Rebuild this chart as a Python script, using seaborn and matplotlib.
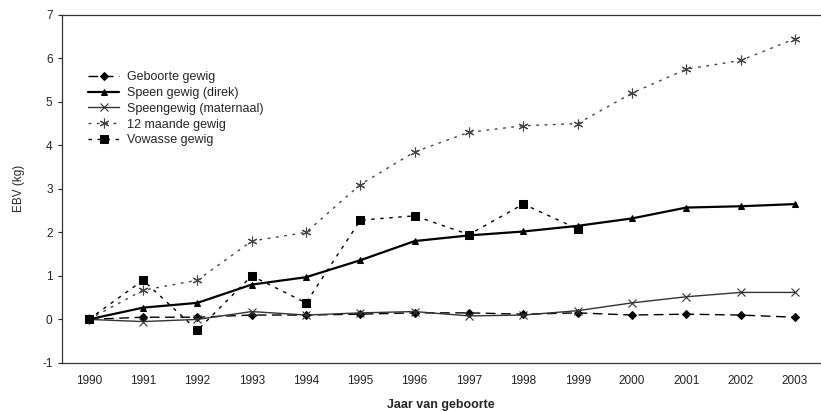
import matplotlib
matplotlib.use("Agg")
import matplotlib.pyplot as plt
import seaborn as sns
import pandas as pd

years = list(range(1990, 2004))

geboorte = [0.0, 0.05, 0.05, 0.10, 0.10, 0.12, 0.15, 0.15, 0.12, 0.15, 0.10, 0.12, 0.10, 0.05]
speen_direk = [0.0, 0.27, 0.38, 0.80, 0.97, 1.36, 1.80, 1.93, 2.02, 2.15, 2.32, 2.57, 2.60, 2.65]
speen_maternaal = [0.0, -0.05, 0.0, 0.18, 0.10, 0.15, 0.18, 0.08, 0.10, 0.20, 0.38, 0.52, 0.62, 0.62]
maande12 = [0.0, 0.67, 0.90, 1.80, 2.00, 3.10, 3.85, 4.30, 4.45, 4.50, 5.20, 5.75, 5.95, 6.45]
vowasse_years = list(range(1990, 2000))
vowasse = [0.0, 0.90, -0.25, 1.00, 0.38, 2.28, 2.38, 1.95, 2.65, 2.08]

sns.set_style("white")
plt.rcParams["font.family"] = ["Liberation Sans", "DejaVu Sans"]
plt.rcParams["axes.unicode_minus"] = False

fig = plt.figure(figsize=(8.21, 4.11), dpi=100)
ax = fig.add_axes([0.075, 0.117, 0.925, 0.847])

pos = {y: i for i, y in enumerate(years)}

def frame(xs, ys):
    return pd.DataFrame({"x": [pos[v] for v in xs], "y": ys})

# series: label, x, y, style
series = [
    ("Geboorte gewig", years, geboorte,
     dict(color="black", lw=1.0, dashes=(7, 4), marker="D", ms=4.5)),
    ("Speen gewig (direk)", years, speen_direk,
     dict(color="black", lw=1.6, marker="^", ms=4.5)),
    ("Speengewig (maternaal)", years, speen_maternaal,
     dict(color="#333333", lw=1.0, marker="x", ms=6, mew=0.8)),
    ("12 maande gewig", years, maande12,
     dict(color="#444444", lw=1.0, dashes=(2, 4), marker=(6, 2, 0), ms=7, mew=0.8)),
    ("Vowasse gewig", vowasse_years, vowasse,
     dict(color="black", lw=1.0, dashes=(2.5, 4), marker="s", ms=5.5)),
]

for label, xs, ys, kw in series:
    d = frame(xs, ys)
    kw = dict(kw)
    dashes = kw.pop("dashes", None)
    sns.lineplot(data=d, x="x", y="y", ax=ax, label=label,
                 markeredgecolor=kw["color"], **kw)
    if dashes is not None:
        ax.lines[-1].set_dashes(dashes)

ax.set_xlim(-0.5, 13.48)
ax.set_ylim(-1, 7)
ax.set_yticks(range(-1, 8))
ax.set_xticks(range(len(years)))
ax.set_xticklabels([str(y) for y in years])
ax.tick_params(axis="both", labelsize=8.5, colors="#222222")
ax.tick_params(axis="y", length=3, direction="out", left=True)
ax.tick_params(axis="x", length=0, pad=9)

for s in ["left", "bottom", "top"]:
    ax.spines[s].set_color("#333333")
    ax.spines[s].set_linewidth(0.9)
ax.spines["right"].set_visible(False)

ax.set_xlabel("Jaar van geboorte", fontsize=9, fontweight="bold", labelpad=8)
ax.set_ylabel("EBV (kg)", fontsize=8.5, labelpad=12)

ax.legend(loc="upper left", bbox_to_anchor=(0.02, 0.87), frameon=False,
          fontsize=9, handlelength=2.5, labelspacing=0.3, handletextpad=0.6)

fig.savefig("out.png", dpi=100)
